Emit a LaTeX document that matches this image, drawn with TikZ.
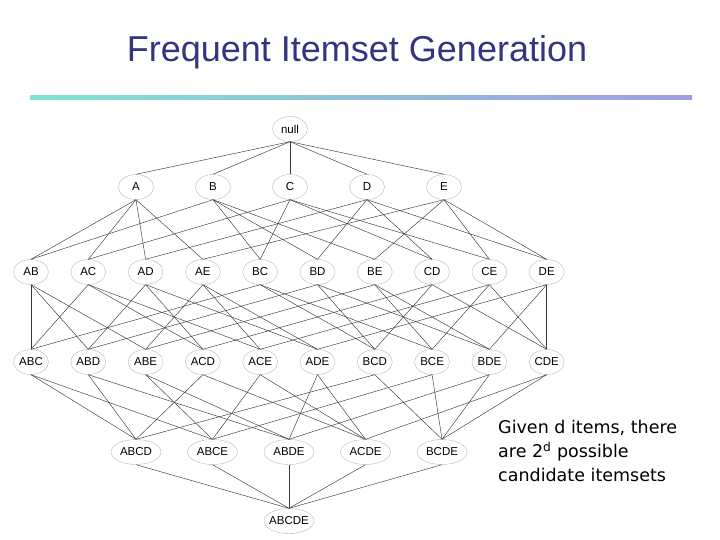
\documentclass[tikz,border=0pt]{standalone}
\usepackage{fontspec}
\setmainfont{Liberation Sans}
\newfontfamily\notefont{DejaVu Sans}
\usetikzlibrary{shapes.geometric}
\definecolor{titleblue}{RGB}{52,52,128}
\definecolor{barstart}{RGB}{128,228,208}
\definecolor{barend}{RGB}{160,156,224}
\tikzset{
  set/.style={ellipse, draw=black!28, inner xsep=-6pt, inner ysep=0pt,
    minimum width=35pt, minimum height=25pt, font=\fontsize{11.5}{12}\selectfont},
  wideset/.style={set, minimum width=50pt},
  link/.style={draw=black!78, line width=0.45pt}
}
\begin{document}
\begin{tikzpicture}[x=1pt, y=-1pt]
  \useasboundingbox (0,0) rectangle (720,540);

  % title and bar
  \node[text=titleblue, font=\fontsize{36}{40}\selectfont] (title) at (357,52) {Frequent Itemset Generation};
  \shade[left color=barstart, right color=barend] (30,96) rectangle (692,100);

  % lattice levels
  \node[set] (null) at (290,129) {null};
  \foreach \n [count=\i] in {A,B,C,D,E}
    \node[set] (\n) at ({136 + 77 * (\i - 1)}, 187) {\n};
  \foreach \n [count=\i] in {AB,AC,AD,AE,BC,BD,BE,CD,CE,DE}
    \node[set] (\n) at ({31 + 57.3 * (\i - 1)}, 272) {\n};
  \foreach \n [count=\i] in {ABC,ABD,ABE,ACD,ACE,ADE,BCD,BCE,BDE,CDE}
    \node[set] (\n) at ({31 + 57.3 * (\i - 1)}, 362) {\n};
  \foreach \n [count=\i] in {ABCD,ABCE,ABDE,ACDE,BCDE}
    \node[wideset] (\n) at ({136 + 76.5 * (\i - 1)}, 452) {\n};
  \node[wideset] (ABCDE) at (289,521) {ABCDE};

  % each set to its subsets one item smaller
  \foreach \c/\ps in {A/null, B/null, C/null, D/null, E/null,
      AB/{A,B}, AC/{A,C}, AD/{A,D}, AE/{A,E}, BC/{B,C},
      BD/{B,D}, BE/{B,E}, CD/{C,D}, CE/{C,E}, DE/{D,E},
      ABC/{AB,AC,BC}, ABD/{AB,AD,BD}, ABE/{AB,AE,BE}, ACD/{AC,AD,CD},
      ACE/{AC,AE,CE}, ADE/{AD,AE,DE}, BCD/{BC,BD,CD}, BCE/{BC,BE,CE},
      BDE/{BD,BE,DE}, CDE/{CD,CE,DE},
      ABCD/{ABC,ABD,ACD,BCD}, ABCE/{ABC,ABE,ACE,BCE},
      ABDE/{ABD,ABE,ADE,BDE}, ACDE/{ACD,ACE,ADE,CDE},
      BCDE/{BCD,BCE,BDE,CDE},
      ABCDE/{ABCD,ABCE,ABDE,ACDE,BCDE}}
    \foreach \p in \ps
      \draw[link] (\p.south) -- (\c.north);

  \node[anchor=north west, align=left, inner sep=0pt,
    font=\notefont\fontsize{17.5}{24}\selectfont] (note) at (498,420)
    {Given d items, there\\are 2\textsuperscript{d} possible\\candidate itemsets};
\end{tikzpicture}
\end{document}
